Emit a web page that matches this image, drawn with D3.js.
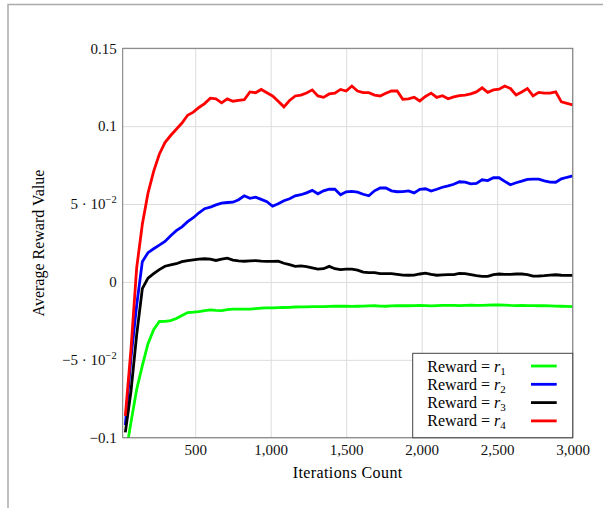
<!DOCTYPE html>
<html>
<head>
<meta charset="utf-8">
<script src="https://cdn.jsdelivr.net/npm/d3@7"></script>
<style>
  body { margin: 0; background: #fff; }
  svg { display: block; font-family: "Liberation Serif", "DejaVu Serif", serif; }
  .grid line { stroke: #dcdcdc; stroke-width: 1; }
  .grid path { display: none; }
  .axis path, .axis line { display: none; }
  .axis text { font-family: "Liberation Serif", "DejaVu Serif", serif; font-size: 15px; fill: #111; }
</style>
</head>
<body>
<svg id="chart" width="603" height="508"></svg>
<script>
// iteration grid of the logged points (every 37.5 iterations up to 3000)
const iterations = d3.range(1, 81).map(i => i * 37.5);

const rewardR1 = [
  -0.112, -0.090, -0.069, -0.0537, -0.0396, -0.0306, -0.0254, -0.0253, -0.0248, -0.0235,
  -0.0216, -0.0197, -0.0194, -0.019, -0.0184, -0.0179, -0.0183, -0.0184, -0.0178, -0.0175,
  -0.0175, -0.0174, -0.0174, -0.0171, -0.0168, -0.0167, -0.0166, -0.0165, -0.0164, -0.0163,
  -0.0161, -0.016, -0.016, -0.0159, -0.0158, -0.0158, -0.0157, -0.0156, -0.0155, -0.0156,
  -0.0157, -0.0156, -0.0155, -0.0154, -0.0153, -0.0155, -0.0156, -0.0154, -0.0153, -0.0152,
  -0.0153, -0.0152, -0.0151, -0.0152, -0.0154, -0.0152, -0.0151, -0.015, -0.0151, -0.0152,
  -0.015, -0.0149, -0.015, -0.0151, -0.0149, -0.0148, -0.0147, -0.0149, -0.0151, -0.0152,
  -0.0151, -0.0152, -0.0152, -0.0153, -0.0153, -0.0154, -0.0155, -0.0156, -0.0157, -0.0158
];

const rewardR2 = [
  -0.092, -0.0485, -0.015, 0.013, 0.0188, 0.0213, 0.0236, 0.026, 0.0297, 0.0329,
  0.0354, 0.0387, 0.0412, 0.0444, 0.047, 0.048, 0.0495, 0.0506, 0.051, 0.0512,
  0.0528, 0.0553, 0.0537, 0.0544, 0.053, 0.0515, 0.0486, 0.0502, 0.0521, 0.0534,
  0.0553, 0.056, 0.0572, 0.0588, 0.0566, 0.0585, 0.0595, 0.0595, 0.056, 0.0579,
  0.0582, 0.0576, 0.0563, 0.0553, 0.0585, 0.0603, 0.0603, 0.0585, 0.0579, 0.058,
  0.0585, 0.0572, 0.0595, 0.0598, 0.0583, 0.0595, 0.0608, 0.0617, 0.0627, 0.0643,
  0.0641, 0.063, 0.0633, 0.0656, 0.0651, 0.0669, 0.0669, 0.0646, 0.0624, 0.0637,
  0.0647, 0.0658, 0.066, 0.066, 0.0649, 0.0641, 0.064, 0.0662, 0.0672, 0.0681
];

const rewardR3 = [
  -0.0966, -0.070, -0.034, -0.0043, 0.0024, 0.0053, 0.0079, 0.0101, 0.0109, 0.0117,
  0.013, 0.0137, 0.0142, 0.0146, 0.0149, 0.0146, 0.0138, 0.0147, 0.0153, 0.014,
  0.0135, 0.0133, 0.0135, 0.0137, 0.0133, 0.0132, 0.0132, 0.0133, 0.012, 0.0111,
  0.01, 0.0103, 0.0098, 0.009, 0.0082, 0.0085, 0.01, 0.0085, 0.0079, 0.0082,
  0.0082, 0.0076, 0.0063, 0.006, 0.006, 0.0054, 0.0053, 0.0053, 0.0049, 0.0044,
  0.0043, 0.0044, 0.0051, 0.0056, 0.0048, 0.0043, 0.0046, 0.0047, 0.0047, 0.0055,
  0.0053, 0.0047, 0.004, 0.0036, 0.0036, 0.0047, 0.0051, 0.0048, 0.0048, 0.0051,
  0.0051, 0.0047, 0.0037, 0.0038, 0.004, 0.0044, 0.0046, 0.0043, 0.0042, 0.0042
];

const rewardR4 = [
  -0.086, -0.043, 0.009, 0.037, 0.057, 0.071, 0.082, 0.0895, 0.094, 0.098,
  0.102, 0.107, 0.109, 0.112, 0.1145, 0.118, 0.1175, 0.115, 0.1175, 0.116,
  0.1165, 0.117, 0.122, 0.1215, 0.1236, 0.1215, 0.1194, 0.116, 0.1124, 0.1165,
  0.1194, 0.120, 0.1213, 0.1233, 0.1194, 0.1185, 0.1207, 0.1212, 0.1236, 0.1226,
  0.1258, 0.1226, 0.1215, 0.1215, 0.120, 0.1194, 0.1212, 0.1226, 0.1226, 0.1173,
  0.1175, 0.1186, 0.1162, 0.1191, 0.1212, 0.1185, 0.1196, 0.1176, 0.1188, 0.1196,
  0.120, 0.1207, 0.122, 0.1246, 0.1217, 0.1233, 0.1237, 0.1258, 0.1242, 0.120,
  0.122, 0.1242, 0.1194, 0.1217, 0.1212, 0.1212, 0.122, 0.1156, 0.1147, 0.1137
];

const seriesNames = ["1", "2", "3", "4"];
const seriesColors = ["#00ff00", "#0000ff", "#000000", "#ff0000"];

const xTicks = [500, 1000, 1500, 2000, 2500, 3000];
const yTicks = [-0.1, -0.05, 0, 0.05, 0.1, 0.15];
const yTickLabels = ["\u22120.1", "\u22125 \u00b7 10^\u22122", "0", "5 \u00b7 10^\u22122", "0.1", "0.15"];

const svg = d3.select("#chart");
const plotLeft = 122.7, plotRight = 572.7, plotTop = 48.3, plotBottom = 437.7;

const x = d3.scaleLinear().domain([20, 3000]).range([plotLeft, plotRight]);
const y = d3.scaleLinear().domain([-0.1, 0.15]).range([plotBottom, plotTop]);

// page frame (top and left edges only)
svg.append("path")
    .attr("d", "M8,508 L8,4.5 L603,4.5")
    .attr("fill", "none")
    .attr("stroke", "#aaa")
    .attr("stroke-width", 1.5);

// grid
svg.append("g")
    .attr("class", "grid")
    .attr("transform", `translate(0,${plotBottom})`)
    .call(d3.axisBottom(x).tickValues(xTicks).tickSize(-(plotBottom - plotTop)).tickFormat(""));

svg.append("g")
    .attr("class", "grid")
    .attr("transform", `translate(${plotLeft},0)`)
    .call(d3.axisLeft(y).tickValues(yTicks).tickSize(-(plotRight - plotLeft)).tickFormat(""));

// lines
svg.append("clipPath").attr("id", "plotClip")
    .append("rect")
    .attr("x", plotLeft).attr("y", plotTop)
    .attr("width", plotRight - plotLeft).attr("height", plotBottom - plotTop);

const allSeries = [rewardR1, rewardR2, rewardR3, rewardR4];
const line = d3.line()
    .x((d, i) => x(iterations[i]))
    .y(d => y(d));

svg.append("g")
    .attr("clip-path", "url(#plotClip)")
    .selectAll("path")
    .data(allSeries)
    .join("path")
    .attr("d", line)
    .attr("fill", "none")
    .attr("stroke", (d, i) => seriesColors[i])
    .attr("stroke-width", 2.8)
    .attr("stroke-linejoin", "miter");

// axis box
svg.append("rect")
    .attr("x", plotLeft).attr("y", plotTop)
    .attr("width", plotRight - plotLeft).attr("height", plotBottom - plotTop)
    .attr("fill", "none")
    .attr("stroke", "#777")
    .attr("stroke-width", 1);

// tick labels
svg.append("g")
    .attr("class", "axis")
    .attr("transform", `translate(0,${plotBottom})`)
    .call(d3.axisBottom(x).tickValues(xTicks).tickSize(0).tickPadding(6.5).tickFormat(d3.format(",")));

const yAxis = svg.append("g")
    .attr("class", "axis")
    .attr("transform", `translate(${plotLeft},0)`)
    .call(d3.axisLeft(y).tickValues(yTicks).tickSize(0).tickPadding(6).tickFormat(""));

yAxis.selectAll(".tick text").each(function(d, i) {
    const parts = yTickLabels[i].split("^");
    const t = d3.select(this);
    t.text(parts[0]);
    if (parts.length > 1) {
        t.append("tspan")
            .attr("dy", "-6")
            .style("font-size", "10.5px")
            .text(parts[1]);
    }
});

// axis titles
svg.append("text")
    .attr("x", (plotLeft + plotRight) / 2)
    .attr("y", 478)
    .attr("text-anchor", "middle")
    .style("font-size", "16px")
    .style("letter-spacing", "0.4px")
    .text("Iterations Count");

svg.append("text")
    .attr("transform", `translate(44,${(plotTop + plotBottom) / 2}) rotate(-90)`)
    .attr("text-anchor", "middle")
    .style("font-size", "16px")
    .text("Average Reward Value");

// legend
const legendLeft = 412.7, legendTop = 353.3;
const legend = svg.append("g").attr("transform", `translate(${legendLeft},${legendTop})`);
legend.append("rect")
    .attr("width", plotRight - legendLeft)
    .attr("height", plotBottom - legendTop)
    .attr("fill", "#fff")
    .attr("stroke", "#444")
    .attr("stroke-width", 1);

const rows = legend.selectAll("g.row")
    .data(seriesNames)
    .join("g")
    .attr("class", "row")
    .attr("transform", (d, i) => `translate(0,${12.7 + i * 18.3})`);

const label = rows.append("text")
    .attr("x", 14.6)
    .attr("y", 5.5)
    .style("font-size", "16px");
label.append("tspan").text("Reward = ");
label.append("tspan").style("font-style", "italic").text("r");
label.append("tspan")
    .attr("dy", 3)
    .style("font-size", "11px")
    .text(d => d);

rows.append("line")
    .attr("x1", 118.3).attr("x2", 144)
    .attr("y1", 0).attr("y2", 0)
    .attr("stroke", (d, i) => seriesColors[i])
    .attr("stroke-width", 2.8);
</script>
</body>
</html>
